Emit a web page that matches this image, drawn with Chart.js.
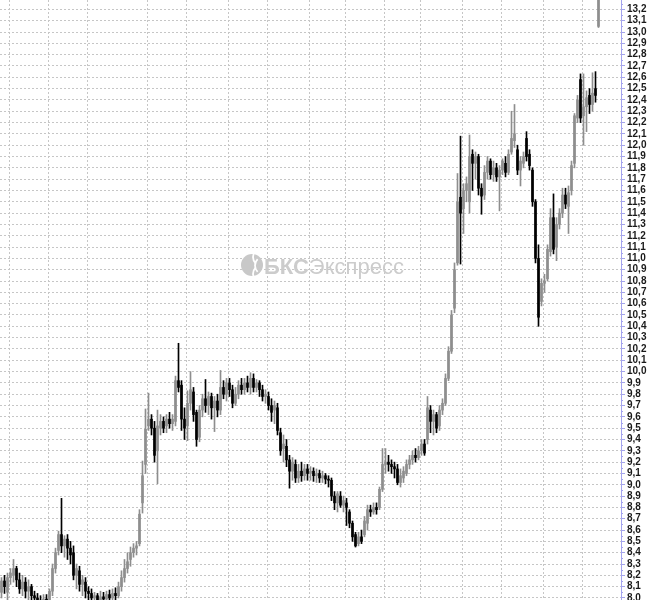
<!DOCTYPE html>
<html>
<head>
<meta charset="utf-8">
<script src="https://cdn.jsdelivr.net/npm/chart.js@4.4.1/dist/chart.umd.min.js"></script>
<style>
  html, body { margin: 0; padding: 0; background: #fff; }
  #wrap { width: 650px; height: 600px; position: relative; }
</style>
</head>
<body>
<div id="wrap"><canvas id="priceChart"></canvas></div>
<script>
// OHLC per bar, oldest first
const open = [
  8.05, 8.15, 8.05, 8.18, 8.20, 8.26, 8.16, 8.08, 8.14, 8.06,
  8.10, 8.02, 8.00, 7.98, 7.96, 7.99, 7.97, 8.06, 8.26, 8.42,
  8.56, 8.46, 8.52, 8.44, 8.40, 8.20, 8.24, 8.12, 8.14, 8.06,
  8.04, 8.00, 8.02, 7.98, 8.01, 7.99, 8.03, 8.00, 8.04, 8.02,
  8.10, 8.18, 8.26, 8.34, 8.40, 8.44, 8.48, 8.84, 9.18, 9.52,
  9.58, 9.50, 9.30, 9.50, 9.56, 9.52, 9.58, 9.54, 9.56, 9.92,
  9.88, 9.58, 9.52, 9.72, 9.82, 9.64, 9.42, 9.66, 9.76, 9.70,
  9.78, 9.68, 9.74, 9.66, 9.86, 9.80, 9.90, 9.84, 9.72, 9.80,
  9.88, 9.84, 9.90, 9.86, 9.94, 9.86, 9.90, 9.84, 9.78, 9.78,
  9.70, 9.66, 9.68, 9.46, 9.32, 9.34, 9.22, 9.12, 9.18, 9.06,
  9.12, 9.08, 9.14, 9.10, 9.12, 9.08, 9.10, 9.06, 9.08, 9.05,
  9.04, 8.90, 8.84, 8.90, 8.82, 8.84, 8.76, 8.66, 8.56, 8.48,
  8.54, 8.56, 8.66, 8.78, 8.76, 8.80, 8.80, 8.96, 9.18, 9.20,
  9.18, 9.16, 9.14, 9.02, 9.06, 9.10, 9.18, 9.22, 9.26, 9.24,
  9.30, 9.36, 9.40, 9.66, 9.56, 9.62, 9.52, 9.66, 9.72, 9.94,
  10.18, 10.56, 10.96, 11.54, 11.44, 11.60, 11.50, 11.92, 11.84, 11.90,
  11.62, 11.56, 11.76, 11.86, 11.74, 11.80, 11.72, 11.78, 11.84, 11.76,
  11.94, 12.04, 11.96, 11.78, 11.84, 12.06, 11.92, 11.78, 11.50, 11.00,
  10.62, 10.78, 10.82, 11.06, 11.36, 11.10, 11.30, 11.40, 11.56, 11.46,
  11.60, 11.84, 12.24, 12.58, 12.26, 12.34, 12.44, 12.36, 12.50, 13.05
];
const high = [
  8.18, 8.20, 8.22, 8.26, 8.34, 8.28, 8.22, 8.20, 8.18, 8.16,
  8.12, 8.06, 8.04, 8.02, 8.03, 8.03, 8.08, 8.30, 8.44, 8.59,
  8.88, 8.55, 8.56, 8.50, 8.46, 8.30, 8.28, 8.20, 8.18, 8.10,
  8.08, 8.05, 8.04, 8.06, 8.05, 8.06, 8.07, 8.08, 8.09, 8.14,
  8.24, 8.34, 8.40, 8.45, 8.48, 8.50, 8.78, 9.21, 9.67, 9.81,
  9.62, 9.56, 9.66, 9.62, 9.60, 9.62, 9.64, 9.62, 9.96, 10.25,
  9.92, 9.68, 9.83, 10.00, 9.86, 9.66, 9.70, 9.80, 9.93, 9.82,
  9.81, 9.78, 9.80, 10.01, 9.92, 9.94, 9.94, 9.88, 9.86, 9.92,
  9.94, 9.94, 9.96, 9.99, 9.98, 9.93, 9.92, 9.88, 9.84, 9.82,
  9.76, 9.74, 9.72, 9.50, 9.44, 9.40, 9.26, 9.24, 9.22, 9.18,
  9.20, 9.18, 9.18, 9.16, 9.15, 9.14, 9.13, 9.12, 9.10, 9.08,
  9.06, 8.94, 8.94, 8.94, 8.90, 8.88, 8.78, 8.68, 8.58, 8.58,
  8.60, 8.72, 8.82, 8.82, 8.84, 8.84, 8.98, 9.32, 9.32, 9.26,
  9.22, 9.20, 9.18, 9.14, 9.16, 9.22, 9.26, 9.30, 9.32, 9.34,
  9.40, 9.40, 9.78, 9.70, 9.66, 9.64, 9.70, 9.76, 9.98, 10.22,
  10.54, 10.96, 11.75, 12.08, 11.66, 11.72, 12.09, 11.96, 11.94, 11.92,
  11.66, 11.82, 11.90, 11.88, 11.86, 11.84, 11.82, 11.88, 11.90, 11.96,
  12.30, 12.36, 12.00, 11.90, 11.94, 12.12, 11.96, 11.80, 11.52, 11.12,
  10.82, 10.86, 11.12, 11.44, 11.57, 11.36, 11.44, 11.62, 11.62, 11.64,
  11.86, 12.28, 12.44, 12.63, 12.63, 12.48, 12.50, 12.64, 12.65, 13.40
];
const low = [
  8.00, 8.04, 7.98, 8.12, 8.14, 8.10, 8.04, 8.02, 8.00, 7.98,
  7.96, 7.94, 7.92, 7.90, 7.90, 7.91, 7.93, 8.02, 8.22, 8.38,
  8.40, 8.36, 8.34, 8.30, 8.16, 8.08, 8.06, 8.02, 8.00, 7.98,
  7.95, 7.94, 7.93, 7.94, 7.94, 7.96, 7.96, 7.97, 7.98, 8.00,
  8.06, 8.14, 8.22, 8.28, 8.36, 8.38, 8.46, 8.75, 9.10, 9.48,
  9.44, 9.20, 9.01, 9.44, 9.46, 9.46, 9.50, 9.48, 9.52, 9.82,
  9.48, 9.40, 9.39, 9.66, 9.56, 9.34, 9.38, 9.60, 9.64, 9.62,
  9.58, 9.47, 9.60, 9.62, 9.76, 9.74, 9.78, 9.68, 9.70, 9.76,
  9.80, 9.80, 9.82, 9.80, 9.82, 9.82, 9.78, 9.74, 9.72, 9.66,
  9.56, 9.54, 9.44, 9.26, 9.20, 9.16, 8.97, 9.04, 9.02, 9.02,
  9.03, 9.04, 9.04, 9.04, 9.03, 9.02, 9.02, 9.02, 9.01, 8.98,
  8.86, 8.78, 8.76, 8.80, 8.76, 8.64, 8.62, 8.50, 8.45, 8.46,
  8.48, 8.54, 8.60, 8.72, 8.74, 8.74, 8.78, 8.94, 9.10, 9.12,
  9.10, 9.06, 9.00, 8.98, 9.02, 9.08, 9.14, 9.18, 9.20, 9.22,
  9.26, 9.26, 9.36, 9.46, 9.44, 9.46, 9.48, 9.62, 9.70, 9.92,
  10.16, 10.52, 10.94, 10.95, 11.22, 11.50, 11.40, 11.60, 11.70, 11.56,
  11.39, 11.52, 11.70, 11.70, 11.68, 11.68, 11.42, 11.74, 11.72, 11.74,
  11.92, 11.98, 11.74, 11.64, 11.80, 11.86, 11.78, 11.46, 10.96, 10.40,
  10.58, 10.70, 10.80, 11.02, 11.04, 10.98, 11.26, 11.36, 11.44, 11.22,
  11.56, 11.80, 12.20, 12.20, 12.00, 12.12, 12.28, 12.30, 12.38, 13.04
];
const close = [
  8.15, 8.10, 8.18, 8.22, 8.26, 8.16, 8.08, 8.14, 8.06, 8.10,
  8.02, 8.00, 7.98, 7.96, 7.99, 7.97, 8.06, 8.26, 8.40, 8.56,
  8.46, 8.52, 8.44, 8.38, 8.20, 8.26, 8.12, 8.16, 8.06, 8.04,
  8.00, 8.02, 7.98, 8.01, 7.99, 8.03, 8.00, 8.04, 8.02, 8.10,
  8.18, 8.26, 8.32, 8.40, 8.44, 8.46, 8.74, 9.08, 9.49, 9.58,
  9.50, 9.26, 9.52, 9.56, 9.50, 9.58, 9.54, 9.58, 9.92, 9.86,
  9.58, 9.50, 9.72, 9.84, 9.62, 9.40, 9.66, 9.76, 9.70, 9.78,
  9.68, 9.74, 9.66, 9.86, 9.80, 9.90, 9.84, 9.72, 9.80, 9.88,
  9.84, 9.90, 9.86, 9.94, 9.86, 9.90, 9.84, 9.78, 9.80, 9.70,
  9.64, 9.70, 9.48, 9.30, 9.36, 9.22, 9.12, 9.20, 9.06, 9.12,
  9.08, 9.14, 9.10, 9.12, 9.08, 9.10, 9.06, 9.08, 9.05, 9.04,
  8.90, 8.84, 8.92, 8.82, 8.86, 8.80, 8.66, 8.54, 8.46, 8.54,
  8.50, 8.68, 8.78, 8.76, 8.80, 8.78, 8.96, 9.18, 9.20, 9.18,
  9.16, 9.14, 9.02, 9.08, 9.12, 9.18, 9.22, 9.26, 9.24, 9.30,
  9.36, 9.28, 9.68, 9.56, 9.62, 9.50, 9.66, 9.72, 9.94, 10.18,
  10.50, 10.90, 11.50, 11.40, 11.60, 11.66, 11.90, 11.84, 11.90, 11.62,
  11.55, 11.76, 11.86, 11.74, 11.80, 11.72, 11.78, 11.86, 11.76, 11.92,
  12.06, 12.10, 11.78, 11.86, 11.90, 11.90, 11.82, 11.50, 11.00, 10.48,
  10.78, 10.80, 11.08, 11.36, 11.08, 11.30, 11.40, 11.56, 11.48, 11.58,
  11.82, 12.26, 12.40, 12.24, 12.34, 12.42, 12.36, 12.46, 12.44, 13.30
];

// bars where the dotted period separators fall
const periodStarts = [3, 16, 29, 49, 62, 76, 89, 103, 115, 128, 140, 154, 167, 181, 194];
const emptySlots = 7;

const upColor = "#8e8e8e";
const downColor = "#000000";
const gridColor = "#c6c6c6";
const axisColor = "#a4a4ee";

const slots = Array.from({ length: close.length + emptySlots }, (_, i) => String(i));
const barColors = close.map((c, i) => (c >= open[i] ? upColor : downColor));

const watermark = {
  id: "watermark",
  beforeDatasetsDraw(chart) {
    const ctx = chart.ctx;
    ctx.save();
    // round logo
    ctx.fillStyle = "#c8c8c8";
    ctx.beginPath();
    ctx.arc(252, 265, 11, 0, Math.PI * 2);
    ctx.fill();
    ctx.strokeStyle = "#ffffff";
    ctx.lineWidth = 1.8;
    [[262, 257, 9], [264, 265.5, 9], [262, 274, 9]].forEach(([cx, cy, r]) => {
      ctx.beginPath();
      ctx.arc(cx, cy, r, Math.PI * 0.75, Math.PI * 1.25);
      ctx.stroke();
    });
    // name
    ctx.fillStyle = "#cccccc";
    ctx.textBaseline = "alphabetic";
    ctx.font = 'bold 22px "Liberation Sans"';
    ctx.fillText("БКС", 264, 274);
    const w = ctx.measureText("БКС").width;
    ctx.font = '22px "Liberation Sans"';
    ctx.fillText("Экспресс", 264 + w, 274);
    ctx.restore();
  }
};

const minorTicks = {
  id: "minorTicks",
  afterDraw(chart) {
    const s = chart.scales.y;
    const ctx = chart.ctx;
    ctx.save();
    ctx.strokeStyle = axisColor;
    ctx.lineWidth = 1;
    s.ticks.forEach((t) => {
      const y = Math.round(s.getPixelForValue(t.value + 0.05)) + 0.5;
      ctx.beginPath();
      ctx.moveTo(s.left, y);
      ctx.lineTo(s.left + 2, y);
      ctx.stroke();
    });
    ctx.restore();
  }
};

new Chart(document.getElementById("priceChart"), {
  type: "bar",
  data: {
    labels: slots,
    datasets: [
      {
        label: "body",
        data: open.map((o, i) => [o, close[i]]),
        backgroundColor: barColors,
        barThickness: 2,
        borderWidth: 0,
        grouped: false,
      },
      {
        label: "wick",
        data: low.map((l, i) => [l, high[i]]),
        backgroundColor: barColors,
        barThickness: 1,
        borderWidth: 0,
        grouped: false,
      },
    ],
  },
  options: {
    responsive: true,
    maintainAspectRatio: false,
    animation: false,
    layout: { padding: 0, autoPadding: false },
    plugins: {
      legend: { display: false },
      tooltip: { enabled: false },
    },
    scales: {
      x: {
        offset: true,
        afterFit: (s) => {
          s.height = 0;
          s.paddingLeft = 0;
          s.paddingRight = 0;
        },
        ticks: { display: false, autoSkip: false },
        grid: {
          offset: true,
          drawTicks: false,
          color: (c) => (periodStarts.includes(c.index) ? gridColor : "rgba(0,0,0,0)"),
        },
        border: { display: false, dash: [2, 2] },
      },
      y: {
        position: "right",
        min: 7.982,
        max: 13.283,
        afterFit: (s) => {
          s.width = 29;
          s.paddingTop = 0;
          s.paddingBottom = 0;
        },
        ticks: {
          stepSize: 0.1,
          autoSkip: false,
          includeBounds: false,
          padding: 2,
          color: "#1a1a1a",
          font: { family: "Liberation Sans", size: 10, weight: "bold" },
          callback: (v) => Number(v).toFixed(1).replace(".", ","),
        },
        grid: {
          color: gridColor,
          tickColor: axisColor,
          tickLength: 4,
        },
        border: { display: true, color: axisColor, dash: [2, 2] },
      },
    },
  },
  plugins: [watermark, minorTicks],
});
</script>
</body>
</html>
